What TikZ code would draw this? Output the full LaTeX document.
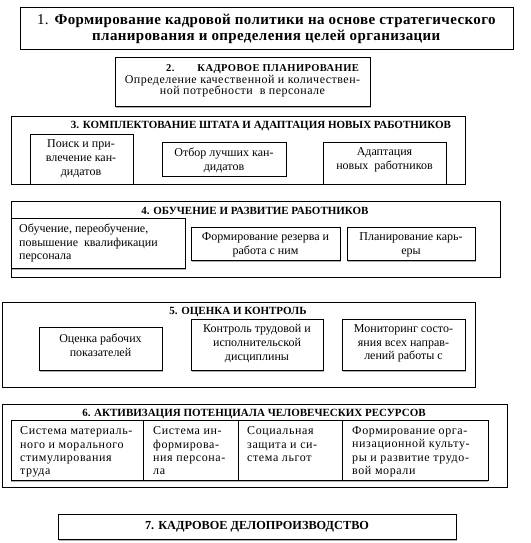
\documentclass[tikz,border=0pt]{standalone}
\usepackage{fontspec}
\setmainfont{Liberation Serif}
\usetikzlibrary{shadows}
\newcommand\fBig{\fontsize{15}{16.5}\selectfont\addfontfeature{LetterSpace=2.5}}
\newcommand\fHead{\fontsize{11}{12}\selectfont\bfseries}
\newcommand\fTxt{\fontsize{12}{13.8}\selectfont}
\newcommand\fCell{\fontsize{12}{13.4}\selectfont\addfontfeature{LetterSpace=5}}
\newcommand\fTwo{\fontsize{12}{11.7}\selectfont\addfontfeature{LetterSpace=4}}
\tikzset{
  box/.style={draw, line width=0.9pt, inner sep=0pt, anchor=north west},
  shbox/.style={box, general shadow={fill=gray!60, shadow yshift=-1.3pt, shadow xshift=0.4pt}},
  txt/.style={inner sep=0pt, align=center, font=\fTxt},
  ltxt/.style={inner sep=0pt, align=left, font=\fTxt, anchor=west},
  ctxt/.style={inner sep=0pt, align=left, font=\fCell, anchor=north west},
  head/.style={inner sep=0pt, font=\fHead},
}
\begin{document}
\begin{tikzpicture}[x=1pt,y=-1pt]
\useasboundingbox (0,0) rectangle (530,543);
% 1
\node[box, minimum width=493pt, minimum height=42pt] (b1) at (20,7) {};
\node[inner sep=0pt, align=center, font=\fBig] (t1) at (266.5,29)
  {1. \textbf{Формирование кадровой политики на основе стратегического}\\\textbf{планирования и определения целей организации}};
% 2
\node[shbox, fill=white, minimum width=255pt, minimum height=49pt] (b2) at (115,57) {};
\node[inner sep=0pt, align=center, font=\fTwo] (t2) at (242.5,81)
  {\hspace*{40pt}{\fontsize{10.5}{11.7}\selectfont\bfseries 2.\hspace{2.2em}КАДРОВОЕ ПЛАНИРОВАНИЕ}\\Определение качественной и количествен-\\ной потребности\ \ в персонале};
% 3
\node[box, minimum width=454pt, minimum height=68pt] (b3) at (11,116) {};
\node[head] (h3) at (261,126) {3. КОМПЛЕКТОВАНИЕ ШТАТА И АДАПТАЦИЯ НОВЫХ РАБОТНИКОВ};
\node[box, minimum width=103pt, minimum height=50pt] (b31) at (30,134) {};
\node[txt] (t31) at (81,158.5) {Поиск и при-\\влечение кан-\\дидатов};
\node[box, minimum width=124pt, minimum height=34pt] (b32) at (162,142) {};
\node[txt] (t32) at (224,160) {Отбор лучших кан-\\дидатов};
\node[box, minimum width=123pt, minimum height=42pt] (b33) at (323,142) {};
\node[txt] (t33) at (384.5,160) {Адаптация\\новых\ \ работников};
% 4
\node[box, minimum width=489pt, minimum height=76pt] (b4) at (11,201) {};
\node[head] (h4) at (255,211) {4. ОБУЧЕНИЕ И РАЗВИТИЕ РАБОТНИКОВ};
\node[shbox, fill=white, minimum width=174pt, minimum height=50pt] (b41) at (11,218) {};
\node[ltxt] (t41) at (19,243) {Обучение, переобучение,\\повышение\ \ квалификации\\персонала};
\node[shbox, fill=white, minimum width=149pt, minimum height=33pt] (b42) at (191,227) {};
\node[txt] (t42) at (265.5,245) {Формирование резерва и\\работа с ним};
\node[shbox, fill=white, minimum width=128pt, minimum height=33pt] (b43) at (347,227) {};
\node[txt] (t43) at (411,245) {Планирование карь-\\еры};
% 5
\node[box, minimum width=473pt, minimum height=85pt] (b5) at (2,302) {};
\node[head] (h5) at (238,312) {5. ОЦЕНКА И КОНТРОЛЬ};
\node[shbox, fill=white, minimum width=123pt, minimum height=43pt] (b51) at (39,327) {};
\node[txt] (t51) at (100.5,345.5) {Оценка рабочих\\показателей};
\node[shbox, fill=white, minimum width=132pt, minimum height=51pt] (b52) at (191,319) {};
\node[txt] (t52) at (257,343.5) {Контроль трудовой и\\исполнительской\\дисциплины};
\node[shbox, fill=white, minimum width=123pt, minimum height=51pt] (b53) at (342,319) {};
\node[txt] (t53) at (403.5,343.5) {Мониторинг состо-\\яния всех направ-\\лений работы с};
% 6
\node[box, minimum width=505pt, minimum height=83pt] (b6) at (2,404) {};
\node[head] (h6) at (254,414) {6. АКТИВИЗАЦИЯ ПОТЕНЦИАЛА ЧЕЛОВЕЧЕСКИХ РЕСУРСОВ};
\node[box, fill=white, general shadow={fill=gray!60, shadow yshift=-1.3pt}, minimum width=477pt, minimum height=60pt] (tab) at (11,420) {};
\node[box, minimum width=132pt, minimum height=60pt] (c1) at (11,420) {};
\node[box, minimum width=95pt, minimum height=60pt] (c2) at (143,420) {};
\node[box, minimum width=104pt, minimum height=60pt] (c3) at (238,420) {};
\node[box, minimum width=146pt, minimum height=60pt] (c4) at (342,420) {};
\begin{scope}
\clip (11,420) rectangle (488,479.5);
\node[ctxt] (tc1) at (20,426.5) {Система материаль-\\ного и морального\\стимулирования\\труда};
\node[ctxt] (tc2) at (153,426.5) {Система ин-\\формирова-\\ния персона-\\ла};
\node[ctxt] (tc3) at (247,426.5) {Социальная\\защита и си-\\стема льгот};
\node[ctxt] (tc4) at (352,426.5) {Формирование орга-\\низационной культу-\\ры и развитие трудо-\\вой морали};
\end{scope}
% 7
\node[shbox, fill=white, minimum width=398pt, minimum height=25pt] (b7) at (58,514) {};
\node[inner sep=0pt, font=\fontsize{12.3}{14}\selectfont\bfseries] (t7) at (257,527) {7. КАДРОВОЕ ДЕЛОПРОИЗВОДСТВО};
\end{tikzpicture}
\end{document}
